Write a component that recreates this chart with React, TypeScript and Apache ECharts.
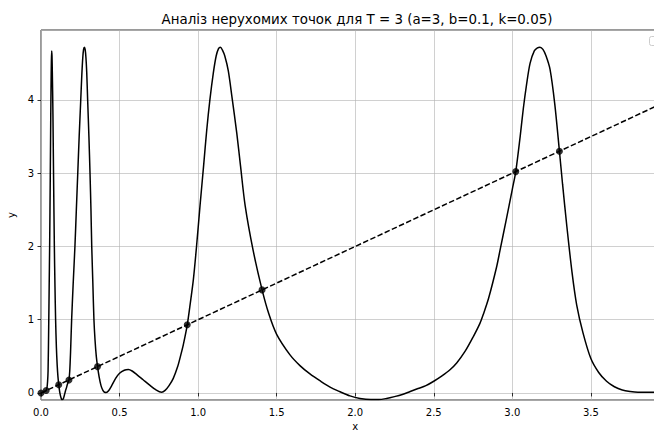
import React, { useEffect, useRef } from "react";
import * as echarts from "echarts";

// Third iterate of the map, sampled along x
const curveX = [
  0, 0.015, 0.025, 0.033, 0.038, 0.042, 0.045, 0.049, 0.052, 0.055, 0.059, 0.062, 0.064, 0.066, 0.068,
  0.070, 0.072, 0.074, 0.076, 0.080, 0.085, 0.089, 0.093, 0.098, 0.103, 0.108, 0.113, 0.118, 0.123,
  0.128, 0.132, 0.136, 0.140, 0.145, 0.150, 0.156, 0.162, 0.168, 0.173, 0.178, 0.183, 0.188, 0.195,
  0.205, 0.216, 0.225, 0.234, 0.243, 0.253, 0.260, 0.266, 0.271, 0.276, 0.281, 0.286, 0.291, 0.297,
  0.305, 0.312, 0.318, 0.323, 0.330, 0.337, 0.344, 0.352, 0.360, 0.370, 0.382, 0.394, 0.405, 0.415,
  0.430, 0.450, 0.475, 0.500, 0.530, 0.556, 0.580, 0.610, 0.650, 0.690, 0.730, 0.768, 0.790, 0.815,
  0.842, 0.870, 0.890, 0.906, 0.931, 0.950, 0.970, 0.990, 1.012, 1.035, 1.055, 1.075, 1.097, 1.115,
  1.130, 1.142, 1.155, 1.170, 1.192, 1.215, 1.246, 1.270, 1.300, 1.350, 1.407, 1.450, 1.500, 1.585,
  1.650, 1.712, 1.780, 1.840, 1.900, 1.967, 2.030, 2.100, 2.150, 2.200, 2.250, 2.300, 2.350, 2.400,
  2.450, 2.500, 2.550, 2.600, 2.646, 2.700, 2.752, 2.794, 2.815, 2.850, 2.900, 2.922, 2.960, 3.000,
  3.022, 3.050, 3.070, 3.090, 3.113, 3.140, 3.160, 3.176, 3.195, 3.215, 3.240, 3.270, 3.300, 3.320,
  3.346, 3.380, 3.410, 3.450, 3.500, 3.550, 3.600, 3.650, 3.700, 3.750, 3.800, 3.900, 4.000,
];
const curveY = [
  0, 0.012, 0.022, 0.033, 0.07, 0.16, 0.3, 0.9, 1.45, 2.0, 2.95, 3.75, 4.2, 4.52, 4.67,
  4.6, 4.38, 4.12, 3.8, 2.95, 2.0, 1.45, 1.0, 0.62, 0.38, 0.22, 0.113, 0.03, -0.03,
  -0.07, -0.088, -0.092, -0.085, -0.06, -0.02, 0.03, 0.07, 0.12, 0.15, 0.18, 0.3, 0.55, 1.0,
  1.5, 2.0, 2.5, 3.0, 3.5, 4.0, 4.35, 4.58, 4.69, 4.72, 4.69, 4.58, 4.38, 4.0,
  3.5, 3.0, 2.5, 2.0, 1.5, 1.0, 0.72, 0.5, 0.36, 0.22, 0.1, 0.035, 0.01, 0.008,
  0.03, 0.1, 0.2, 0.27, 0.31, 0.32, 0.3, 0.25, 0.18, 0.11, 0.045, 0.01, 0.035, 0.1,
  0.2, 0.36, 0.52, 0.66, 0.93, 1.22, 1.55, 2.0, 2.55, 3.1, 3.59, 4.0, 4.37, 4.6,
  4.7, 4.72, 4.68, 4.6, 4.4, 4.05, 3.55, 3.1, 2.55, 1.95, 1.41, 1.08, 0.8, 0.52,
  0.37, 0.26, 0.16, 0.08, 0.02, -0.04, -0.075, -0.09, -0.09, -0.075, -0.05, -0.02, 0.02, 0.06,
  0.1, 0.16, 0.23, 0.31, 0.41, 0.57, 0.77, 0.95, 1.07, 1.3, 1.72, 1.95, 2.35, 2.78,
  3.022, 3.5, 3.88, 4.2, 4.5, 4.67, 4.71, 4.72, 4.69, 4.6, 4.42, 3.95, 3.3, 2.85,
  2.3, 1.65, 1.2, 0.82, 0.47, 0.28, 0.16, 0.085, 0.04, 0.02, 0.01, 0.01, 0.01,
];

// Reference diagonal y = x
const diagonalX = [0, 4];

// Fixed points where the iterate meets y = x
const fixedPoints = [0, 0.033, 0.113, 0.178, 0.36, 0.931, 1.407, 3.022, 3.3];

const titleText = "Аналіз нерухомих точок для T = 3 (a=3, b=0.1, k=0.05)";
const FONT = "DejaVu Sans";

export default function App() {
  const ref = useRef<HTMLDivElement>(null);

  useEffect(() => {
    if (!ref.current) return;
    const chart = echarts.init(ref.current, null, { renderer: "svg" });

    const curve = curveX.map((x, i) => [x, curveY[i]]);
    const diagonal = diagonalX.map((x) => [x, x]);
    const points = fixedPoints.map((x) => [x, x]);

    chart.setOption({
      animation: false,
      backgroundColor: "#ffffff",
      textStyle: { fontFamily: FONT },
      title: {
        text: titleText,
        left: 352,
        top: 8,
        textAlign: "center",
        textStyle: { fontFamily: FONT, fontSize: 13.4, fontWeight: "normal", color: "#000" },
      },
      grid: {
        left: 41,
        top: 30,
        right: 2.6,
        bottom: 32,
        outerBoundsMode: "none",
        show: true,
        borderColor: "#000",
        borderWidth: 0.8,
        backgroundColor: "transparent",
      },
      xAxis: {
        type: "value",
        min: 0,
        max: 4,
        interval: 0.5,
        name: "x",
        nameLocation: "middle",
        nameGap: 20,
        nameTextStyle: { fontFamily: FONT, fontSize: 10, color: "#000" },
        axisLine: { show: false },
        axisTick: { show: true, length: 3.5, lineStyle: { color: "#000", width: 0.8 } },
        axisLabel: {
          fontFamily: FONT,
          fontSize: 10,
          color: "#000",
          margin: 7,
          showMaxLabel: false,
          formatter: (v: number) => (v < 4 ? v.toFixed(1) : ""),
        },
        splitLine: { show: true, lineStyle: { color: "#b0b0b0", width: 0.8, opacity: 0.75 } },
      },
      yAxis: {
        type: "value",
        min: -0.096,
        max: 4.955,
        minInterval: 1,
        maxInterval: 1,
        name: "y",
        nameLocation: "middle",
        nameGap: 19,
        nameTextStyle: { fontFamily: FONT, fontSize: 10, color: "#000" },
        axisLine: { show: false },
        axisTick: { show: true, length: 3.5, lineStyle: { color: "#000", width: 0.8 } },
        axisLabel: {
          fontFamily: FONT,
          fontSize: 10,
          color: "#000",
          margin: 7,
          showMinLabel: false,
          showMaxLabel: false,
          formatter: (v: number) => (Number.isInteger(v) ? String(v) : ""),
        },
        splitLine: { show: true, lineStyle: { color: "#b0b0b0", width: 0.8, opacity: 0.75 } },
      },
      series: [
        {
          type: "line",
          data: curve,
          showSymbol: false,
          smooth: 0.3,
          lineStyle: { color: "#000", width: 1.5 },
          z: 2,
        },
        {
          type: "line",
          data: diagonal,
          showSymbol: false,
          lineStyle: { color: "#000", width: 1.5, type: [5.5, 2.4] },
          z: 3,
        },
        {
          type: "scatter",
          data: points,
          symbol: "circle",
          symbolSize: 7,
          itemStyle: { color: "#000" },
          z: 4,
        },
      ],
      graphic: [
        {
          type: "rect",
          shape: { x: 649.5, y: 36.5, width: 20, height: 9, r: 2 },
          style: { fill: "#ffffff", stroke: "#cccccc", lineWidth: 1 },
          z: 10,
        },
      ],
    });

    return () => chart.dispose();
  }, []);

  return (
    <div
      style={{
        position: "fixed",
        left: 0,
        top: 0,
        width: 654,
        height: 432,
        overflow: "hidden",
      }}
    >
      <div ref={ref} style={{ width: 672, height: 432 }} />
    </div>
  );
}
